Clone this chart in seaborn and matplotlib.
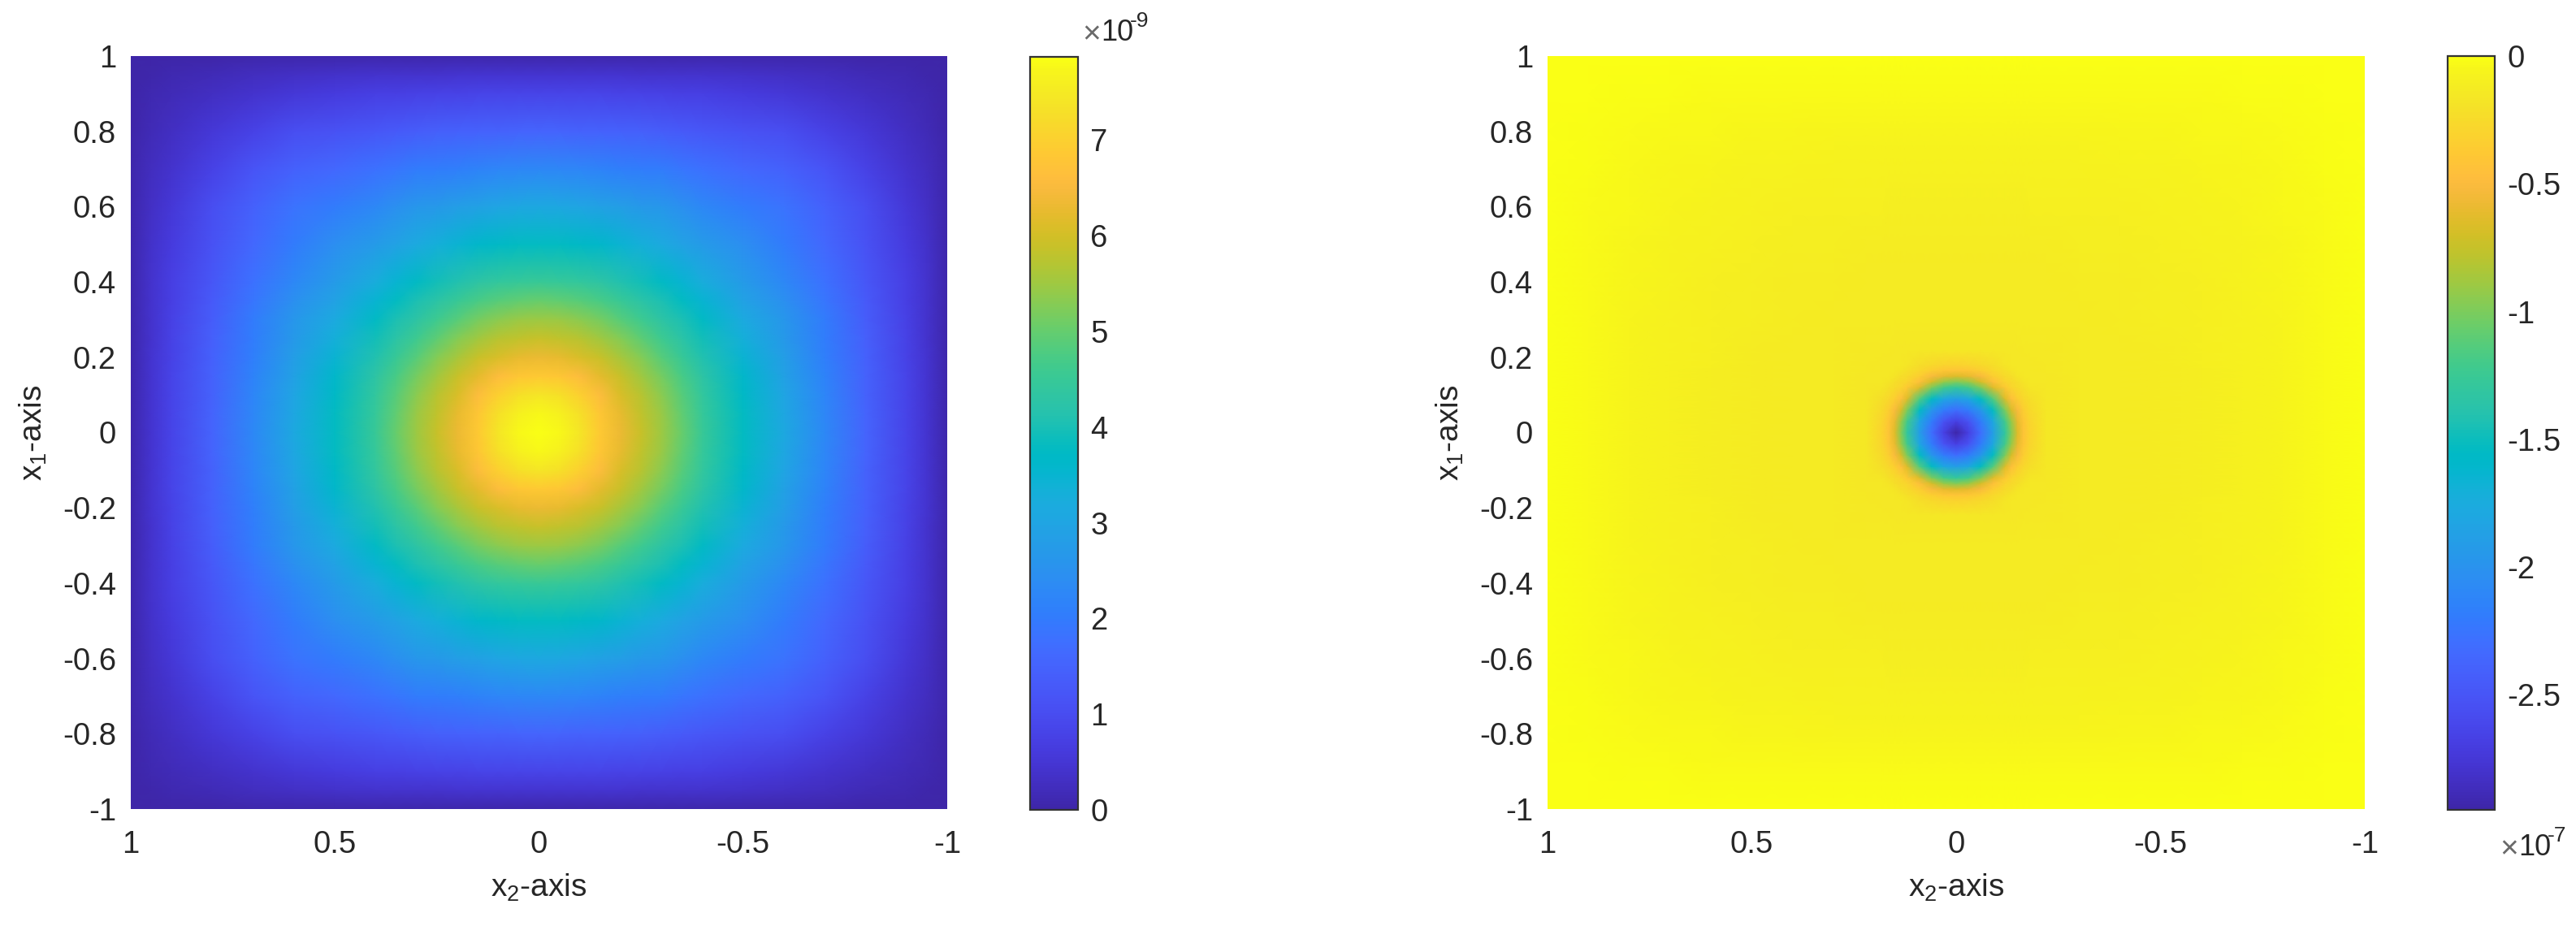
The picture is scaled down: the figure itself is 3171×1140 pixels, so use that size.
import numpy as np
import matplotlib
matplotlib.use("Agg")
import matplotlib.pyplot as plt
from matplotlib.colors import LinearSegmentedColormap
import seaborn as sns

left_coords = [0, .05, .1, .15, .2, .25, .3, .35, .4, .5, .6, .7, .8, .9, .95, 1]
left_quadrant = [  # units of 1e-9
    [7.85, 7.76, 7.42, 6.88, 6.32, 5.88, 5.50, 5.02, 4.50, 3.78, 3.08, 2.28, 1.52, .82, .45, .05],
    [7.76, 7.64, 7.30, 6.80, 6.27, 5.84, 5.46, 4.98, 4.48, 3.76, 3.06, 2.27, 1.51, .82, .45, .05],
    [7.42, 7.30, 7.00, 6.58, 6.08, 5.72, 5.34, 4.88, 4.41, 3.70, 3.01, 2.24, 1.50, .81, .45, .05],
    [6.88, 6.80, 6.58, 6.22, 5.88, 5.52, 5.14, 4.71, 4.30, 3.60, 2.92, 2.16, 1.48, .80, .445, .05],
    [6.32, 6.27, 6.08, 5.88, 5.58, 5.26, 4.88, 4.50, 4.10, 3.46, 2.80, 2.08, 1.45, .79, .44, .05],
    [5.88, 5.84, 5.72, 5.52, 5.26, 4.94, 4.61, 4.27, 3.96, 3.32, 2.70, 2.04, 1.42, .77, .43, .05],
    [5.50, 5.46, 5.34, 5.14, 4.88, 4.61, 4.30, 4.03, 3.75, 3.14, 2.62, 2.00, 1.38, .75, .42, .05],
    [5.02, 4.98, 4.88, 4.71, 4.50, 4.27, 4.03, 3.78, 3.50, 2.94, 2.46, 1.90, 1.32, .73, .41, .05],
    [4.50, 4.48, 4.41, 4.30, 4.10, 3.96, 3.75, 3.50, 3.25, 2.75, 2.30, 1.80, 1.26, .71, .40, .05],
    [3.78, 3.76, 3.70, 3.60, 3.46, 3.32, 3.14, 2.94, 2.75, 2.45, 2.00, 1.60, 1.13, .64, .37, .04],
    [3.08, 3.06, 3.01, 2.92, 2.80, 2.70, 2.62, 2.46, 2.30, 2.00, 1.83, 1.47, 1.03, .55, .32, .04],
    [2.28, 2.27, 2.24, 2.16, 2.08, 2.04, 2.00, 1.90, 1.80, 1.60, 1.47, 1.18, .78, .42, .25, .04],
    [1.52, 1.51, 1.50, 1.48, 1.45, 1.42, 1.38, 1.32, 1.26, 1.13, 1.03, .78, .55, .30, .17, .03],
    [.82, .82, .81, .80, .79, .77, .75, .73, .71, .64, .55, .42, .30, .18, .10, .02],
    [.45, .45, .45, .445, .44, .43, .42, .41, .40, .37, .32, .25, .17, .10, .06, .01],
    [.05, .05, .05, .05, .05, .05, .05, .05, .05, .04, .04, .04, .03, .02, .01, 0],
]

right_coords = [0, .03, .06, .09, .12, .135, .15, .165, .18, .22, .3, .4, .5, .6, .7, .8, .9, 1]
right_quadrant = [  # units of 1e-7
    [-2.95, -2.68, -2.30, -1.90, -1.30, -.98, -.65, -.42, -.30, -.16, -.138, -.130, -.119, -.104, -.086, -.062, -.033, 0],
    [-2.68, -2.53, -2.20, -1.80, -1.20, -.92, -.61, -.40, -.29, -.16, -.138, -.130, -.119, -.104, -.086, -.062, -.033, 0],
    [-2.30, -2.20, -1.97, -1.54, -1.00, -.69, -.51, -.34, -.26, -.16, -.138, -.130, -.119, -.104, -.086, -.062, -.033, 0],
    [-1.90, -1.80, -1.54, -1.15, -.65, -.46, -.34, -.27, -.22, -.155, -.138, -.130, -.119, -.104, -.086, -.062, -.033, 0],
    [-1.30, -1.20, -1.00, -.65, -.38, -.29, -.25, -.21, -.17, -.15, -.138, -.130, -.119, -.104, -.086, -.062, -.033, 0],
    [-.98, -.92, -.69, -.46, -.29, -.26, -.22, -.18, -.158, -.15, -.138, -.130, -.119, -.104, -.086, -.062, -.033, 0],
    [-.65, -.61, -.51, -.34, -.25, -.22, -.18, -.16, -.155, -.15, -.138, -.130, -.119, -.104, -.086, -.062, -.033, 0],
    [-.42, -.40, -.34, -.27, -.21, -.18, -.16, -.155, -.15, -.146, -.138, -.130, -.119, -.104, -.086, -.062, -.033, 0],
    [-.30, -.29, -.26, -.22, -.17, -.158, -.155, -.15, -.15, -.145, -.137, -.129, -.118, -.103, -.085, -.061, -.033, 0],
    [-.16, -.16, -.16, -.155, -.15, -.15, -.15, -.146, -.145, -.14, -.135, -.128, -.117, -.102, -.084, -.061, -.032, 0],
    [-.138, -.138, -.138, -.138, -.138, -.138, -.138, -.138, -.137, -.135, -.131, -.124, -.113, -.099, -.081, -.059, -.032, 0],
    [-.130, -.130, -.130, -.130, -.130, -.130, -.130, -.130, -.129, -.128, -.124, -.117, -.107, -.094, -.077, -.056, -.030, 0],
    [-.119, -.119, -.119, -.119, -.119, -.119, -.119, -.119, -.118, -.117, -.113, -.107, -.097, -.086, -.070, -.051, -.027, 0],
    [-.104, -.104, -.104, -.104, -.104, -.104, -.104, -.104, -.103, -.102, -.099, -.094, -.086, -.075, -.062, -.045, -.024, 0],
    [-.086, -.086, -.086, -.086, -.086, -.086, -.086, -.086, -.085, -.084, -.081, -.077, -.070, -.062, -.050, -.037, -.020, 0],
    [-.062, -.062, -.062, -.062, -.062, -.062, -.062, -.062, -.061, -.061, -.059, -.056, -.051, -.045, -.037, -.027, -.014, 0],
    [-.033, -.033, -.033, -.033, -.033, -.033, -.033, -.033, -.033, -.032, -.032, -.030, -.027, -.024, -.020, -.014, -.008, 0],
    [0, 0, 0, 0, 0, 0, 0, 0, 0, 0, 0, 0, 0, 0, 0, 0, 0, 0],
]

x_ticks = [1, .5, 0, -.5, -1]
y_ticks = [1, .8, .6, .4, .2, 0, -.2, -.4, -.6, -.8, -1]
left_cbar_ticks = [0, 1, 2, 3, 4, 5, 6, 7]
right_cbar_ticks = [0, -.5, -1, -1.5, -2, -2.5]
left_range = (0, 7.87)
right_range = (-2.95, 0)

parula = LinearSegmentedColormap.from_list("parula", [
    (.2422, .1504, .6603), (.2504, .1650, .7076), (.2578, .1818, .7511), (.2647, .1978, .7952),
    (.2706, .2147, .8364), (.2751, .2342, .8710), (.2783, .2559, .8991), (.2803, .2782, .9221),
    (.2813, .3006, .9414), (.2810, .3228, .9579), (.2795, .3447, .9717), (.2760, .3667, .9829),
    (.2699, .3892, .9906), (.2602, .4123, .9952), (.2440, .4358, .9988), (.2206, .4603, .9973),
    (.1963, .4847, .9892), (.1834, .5074, .9798), (.1786, .5289, .9682), (.1764, .5499, .9520),
    (.1687, .5703, .9359), (.1540, .5902, .9218), (.1460, .6091, .9079), (.1380, .6276, .8973),
    (.1248, .6459, .8883), (.1113, .6635, .8763), (.0952, .6798, .8598), (.0689, .6948, .8394),
    (.0297, .7082, .8163), (.0036, .7203, .7917), (.0067, .7312, .7660), (.0433, .7411, .7394),
    (.0964, .7500, .7120), (.1408, .7584, .6842), (.1717, .7670, .6554), (.1938, .7758, .6251),
    (.2161, .7843, .5923), (.2470, .7918, .5567), (.2906, .7973, .5188), (.3406, .8008, .4789),
    (.3909, .8029, .4354), (.4456, .8024, .3909), (.5044, .7993, .3480), (.5616, .7942, .3045),
    (.6174, .7876, .2612), (.6720, .7793, .2227), (.7242, .7698, .1910), (.7738, .7598, .1646),
    (.8203, .7498, .1535), (.8634, .7406, .1596), (.9035, .7330, .1774), (.9393, .7288, .2100),
    (.9728, .7298, .2394), (.9956, .7434, .2371), (.9970, .7659, .2199), (.9952, .7861, .1991),
    (.9892, .8136, .1885), (.9786, .8386, .1766), (.9676, .8639, .1643), (.9610, .8890, .1537),
    (.9597, .9135, .1423), (.9628, .9373, .1265), (.9691, .9606, .1064), (.9800, 1.000, .0805),
])

sns.set_style("white")
plt.rcParams["font.family"] = ["Liberation Sans", "DejaVu Sans"]
plt.rcParams["mathtext.fontset"] = "custom"
plt.rcParams["mathtext.rm"] = "Liberation Sans"
plt.rcParams["mathtext.default"] = "regular"

W, H = 3171, 1140
TEXT = "#262626"
FS = 27.5


def box(x0, y0, x1, y1):
    # pixel box (from top-left) to figure fractions
    return [x0 / W, 1 - y1 / H, (x1 - x0) / W, (y1 - y0) / H]


def mirror(quadrant):
    q = np.array(quadrant)
    top = np.hstack([q[:, :0:-1], q])
    return np.vstack([top[:0:-1], top])


def draw_panel(fig, ax_box, cax_box, quadrant, coords, vrange, cbar_ticks):
    ax = fig.add_axes(box(*ax_box))
    cax = fig.add_axes(box(*cax_box))
    field = mirror(quadrant)
    full = np.concatenate([-np.array(coords)[:0:-1], coords])
    index = np.arange(len(full))
    sns.heatmap(field, ax=ax, cbar_ax=cax, cmap=parula, vmin=vrange[0], vmax=vrange[1],
                xticklabels=False, yticklabels=False, shading="gouraud",
                cbar_kws={"ticks": cbar_ticks})

    # grid is not evenly spaced, so let the axis scale stretch the cell indices
    scale = (lambda i: np.interp(i, index, full), lambda v: np.interp(v, full, index))
    ax.set_xscale("function", functions=scale)
    ax.set_yscale("function", functions=scale)
    ax.set_xlim(0, len(full) - 1)
    ax.set_ylim(0, len(full) - 1)
    ax.set_xticks(scale[1](-np.array(x_ticks)), [f"{t:g}" for t in x_ticks])
    ax.set_yticks(scale[1](np.array(y_ticks)), [f"{t:g}" for t in y_ticks])
    ax.minorticks_off()
    ax.tick_params(axis="x", length=0, pad=19, labelsize=FS, labelcolor=TEXT)
    ax.tick_params(axis="y", length=0, pad=13, labelsize=FS, labelcolor=TEXT)
    ax.set_xlabel("x$_2$-axis", fontsize=28, color=TEXT, labelpad=11)
    ax.set_ylabel("x$_1$-axis", fontsize=28, color=TEXT, labelpad=12)

    cb = ax.collections[0].colorbar
    cb.outline.set_linewidth(1.6)
    cb.outline.set_edgecolor("#333333")
    cb.ax.yaxis.set_ticks_position("right")
    cb.ax.tick_params(axis="y", which="major", direction="in", length=7.2, width=1.2,
                      color=TEXT, pad=11, labelsize=FS, labelcolor=TEXT)
    cb.ax.minorticks_off()
    cb.ax.set_yticks(cbar_ticks, [f"{t:g}" for t in cbar_ticks])
    return ax


def multiplier(fig, x, baseline, exponent):
    # MATLAB style "x10^-n", hyphen in the exponent and a thin grey cross
    fig.text(x / W, 1 - (baseline + 3) / H, "\u00d7", fontsize=28, color="#6a6a6a", ha="left", va="baseline")
    fig.text((x + 23) / W, 1 - baseline / H, "10", fontsize=26, color=TEXT, ha="left", va="baseline")
    fig.text((x + 59) / W, 1 - (baseline - 17) / H, exponent, fontsize=19, color=TEXT, ha="left", va="baseline")


fig = plt.figure(figsize=(W / 100, H / 100), dpi=100, facecolor="white")

draw_panel(fig, (161, 69, 1166, 996), (1268, 70, 1327, 997),
           left_quadrant, left_coords, left_range, left_cbar_ticks)
draw_panel(fig, (1905, 69, 2911, 996), (3013, 69, 3071, 997),
           right_quadrant, right_coords, right_range, right_cbar_ticks)

multiplier(fig, 1332, 50, "-9")
multiplier(fig, 3077, 1053, "-7")

fig.savefig("out.png", dpi=100, facecolor="white")
